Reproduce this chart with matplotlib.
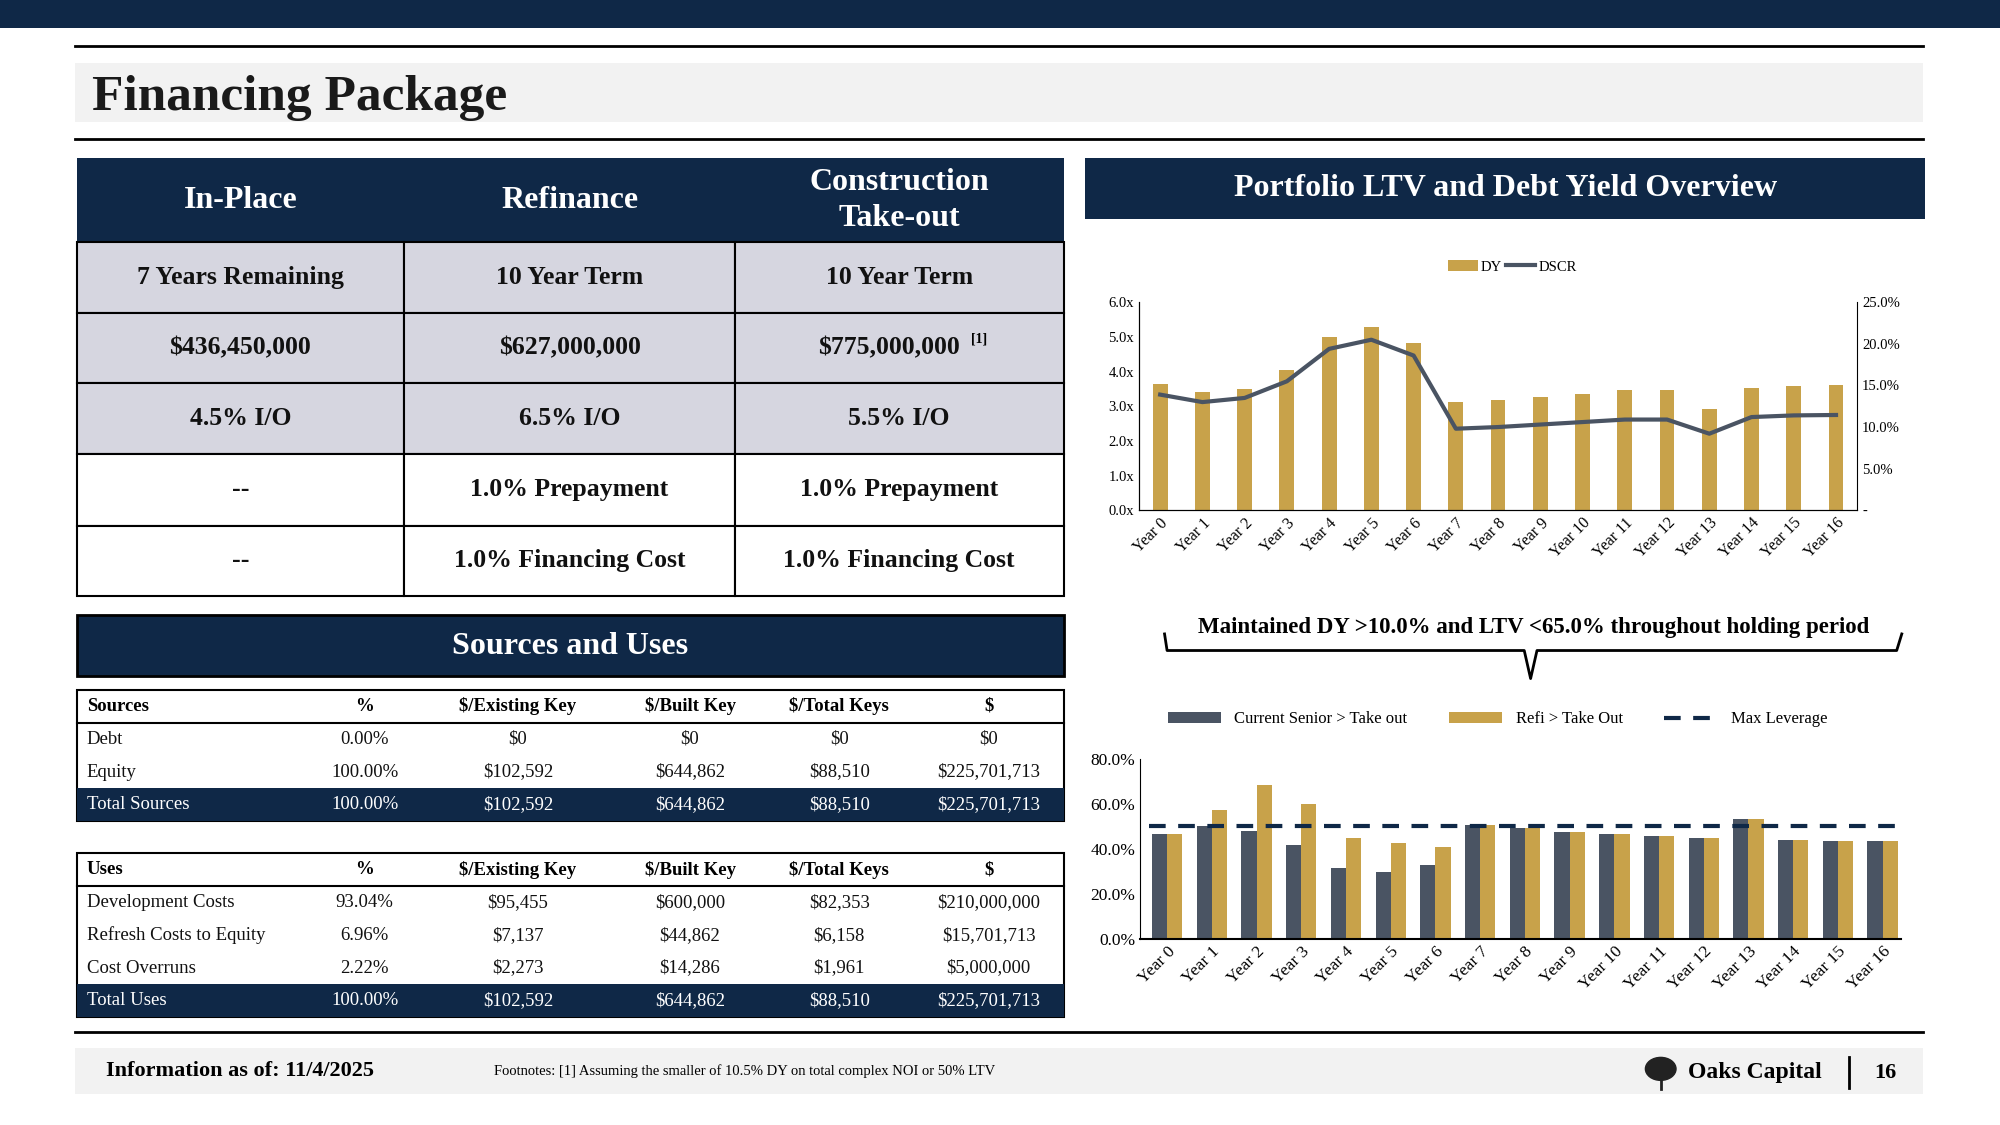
import matplotlib.pyplot as plt
import numpy as np
from matplotlib.patches import Rectangle, Ellipse
from matplotlib.ticker import FuncFormatter

plt.rcParams['font.family'] = ['Liberation Serif', 'DejaVu Serif']

NAVY = '#0f2847'
GOLD = '#c8a24a'
SLATE = '#4a5463'
GREY = '#d6d6e0'

years = ['Year %d' % i for i in range(17)]
dy_bars = [3.65, 3.40, 3.50, 4.05, 5.00, 5.30, 4.83, 3.13, 3.19, 3.27, 3.35, 3.47, 3.47, 2.93, 3.53, 3.58, 3.62]
dscr_line = [13.9, 13.0, 13.5, 15.5, 19.4, 20.5, 18.6, 9.8, 10.0, 10.3, 10.6, 10.9, 10.9, 9.2, 11.2, 11.4, 11.45]
current_senior = [46.4, 50.0, 48.1, 41.9, 31.3, 29.5, 32.6, 50.4, 49.2, 47.7, 46.8, 45.5, 45.0, 53.5, 44.1, 43.7, 43.3]
refi_takeout = [46.4, 57.5, 68.6, 60.1, 45.0, 42.4, 41.0, 50.4, 49.2, 47.7, 46.8, 45.5, 45.0, 53.5, 44.1, 43.7, 43.3]
max_leverage = 50.0

term_header = ['In-Place', 'Refinance', 'Construction\nTake-out']
term_rows = [
    ['7 Years Remaining', '10 Year Term', '10 Year Term'],
    ['$436,450,000', '$627,000,000', '$775,000,000'],
    ['4.5% I/O', '6.5% I/O', '5.5% I/O'],
    ['--', '1.0% Prepayment', '1.0% Prepayment'],
    ['--', '1.0% Financing Cost', '1.0% Financing Cost'],
]

su_cols = ['%', '$/Existing Key', '$/Built Key', '$/Total Keys', '$']
sources = [
    ['Debt', '0.00%', '$0', '$0', '$0', '$0'],
    ['Equity', '100.00%', '$102,592', '$644,862', '$88,510', '$225,701,713'],
    ['Total Sources', '100.00%', '$102,592', '$644,862', '$88,510', '$225,701,713'],
]
uses = [
    ['Development Costs', '93.04%', '$95,455', '$600,000', '$82,353', '$210,000,000'],
    ['Refresh Costs to Equity', '6.96%', '$7,137', '$44,862', '$6,158', '$15,701,713'],
    ['Cost Overruns', '2.22%', '$2,273', '$14,286', '$1,961', '$5,000,000'],
    ['Total Uses', '100.00%', '$102,592', '$644,862', '$88,510', '$225,701,713'],
]

W, H = 1568.0, 882.0
fig = plt.figure(figsize=(20, 11.25), dpi=100)

def rect(x0, y0, x1, y1):
    return [x0 / W, 1 - y1 / H, (x1 - x0) / W, (y1 - y0) / H]

bg = fig.add_axes([0, 0, 1, 1])
bg.set_xlim(0, W)
bg.set_ylim(H, 0)
bg.axis('off')

def box(x0, y0, x1, y1, fc, ec='none', lw=0):
    bg.add_patch(Rectangle((x0, y0), x1 - x0, y1 - y0, facecolor=fc, edgecolor=ec, linewidth=lw))

# top band and title
box(0, 0, W, 22, NAVY)
bg.plot([59, 1508], [36, 36], color='black', lw=2)
box(59, 49, 1508, 96, '#f2f2f2')
bg.text(72, 77, 'Financing Package', fontsize=37, fontweight='bold', va='center', color='#1a1a1a')
bg.plot([59, 1508], [109, 109], color='black', lw=2)

# terms table
cx = [60, 317, 576, 834]
box(60, 124, 834, 190, NAVY)
for i, t in enumerate(term_header):
    bg.text((cx[i] + cx[i + 1]) / 2, 157, t, color='white', fontsize=23, fontweight='bold',
            ha='center', va='center', linespacing=1.3)
ry = [190, 245, 300, 356, 412, 467]
for r, row in enumerate(term_rows):
    fc = GREY if r < 3 else 'white'
    for c in range(3):
        box(cx[c], ry[r], cx[c + 1], ry[r + 1], fc, 'black', 1.5)
        xc = (cx[c] + cx[c + 1]) / 2
        if r == 1 and c == 2:
            xc -= 8
        bg.text(xc, (ry[r] + ry[r + 1]) / 2, row[c], fontsize=18.5,
                fontweight='bold', ha='center', va='center', color='#111111')
bg.text(761, 266, '[1]', fontsize=10, fontweight='bold', va='center')

# sources and uses
box(60, 482, 834, 530, NAVY, 'black', 2)
bg.text(447, 507, 'Sources and Uses', color='white', fontsize=23, fontweight='bold', ha='center', va='center')
colx = [286, 406, 541, 658, 775]

def small_table(top, title, rows):
    rh = 25.7
    n = len(rows) + 1
    box(60, top, 834, top + rh * n, 'white', 'black', 1.5)
    box(60, top + rh * (n - 1), 834, top + rh * n, NAVY)
    bg.plot([60, 834], [top + rh, top + rh], color='black', lw=1.5)
    y = top + rh / 2
    bg.text(68, y, title, fontsize=13.5, fontweight='bold', va='center')
    for x, t in zip(colx, su_cols):
        bg.text(x, y, t, fontsize=13.5, fontweight='bold', va='center', ha='center')
    for r, row in enumerate(rows):
        y = top + rh * (r + 1.5)
        col = 'white' if r == len(rows) - 1 else '#111111'
        bg.text(68, y, row[0], fontsize=13.5, va='center', color=col)
        for x, t in zip(colx, row[1:]):
            bg.text(x, y, t, fontsize=13.5, va='center', ha='center', color=col)

small_table(541, 'Sources', sources)
small_table(669, 'Uses', uses)

# right header
box(851, 124, 1509, 172, NAVY)
bg.text(1180, 148, 'Portfolio LTV and Debt Yield Overview', color='white', fontsize=23,
        fontweight='bold', ha='center', va='center')

x = np.arange(len(years))

# top chart
ax1 = fig.add_axes(rect(893, 237, 1456, 400))
ax1.bar(x, dy_bars, width=0.35, color=GOLD, label='DY')
ax1.set_ylim(0, 6)
ax1.set_yticks(np.arange(0, 6.1, 1))
ax1.yaxis.set_major_formatter(FuncFormatter(lambda v, p: '%.1fx' % v))
ax1.set_xlim(-0.5, 16.5)
ax1.set_xticks(x)
ax1.set_xticklabels(years, rotation=45, ha='right', rotation_mode='anchor')
ax2 = ax1.twinx()
ax2.plot(x, dscr_line, color=SLATE, lw=3, label='DSCR')
ax2.set_ylim(0, 25)
ax2.set_yticks(np.arange(0, 25.1, 5))
ax2.yaxis.set_major_formatter(FuncFormatter(lambda v, p: '-' if v == 0 else '%.1f%%' % v))
for a in (ax1, ax2):
    a.tick_params(length=0, labelsize=10.5)
    a.spines['top'].set_visible(False)
ax1.tick_params(axis='x', labelsize=11.5)
ax1.spines['right'].set_visible(False)
h1, l1 = ax1.get_legend_handles_labels()
h2, l2 = ax2.get_legend_handles_labels()
ax1.legend(h1 + h2, l1 + l2, loc='center', bbox_to_anchor=(0.52, 1.17), ncol=2, frameon=False,
           fontsize=10.5, handlelength=2, columnspacing=0.3, handletextpad=0.2)

# annotation + brace
bg.text(1202, 492, 'Maintained DY >10.0% and LTV <65.0% throughout holding period', fontsize=16.5,
        fontweight='bold', ha='center', va='center')
bg.plot([913, 915, 1195, 1200, 1205, 1487, 1491], [497, 510, 510, 532, 510, 510, 497], color='black', lw=2)

# bottom chart
ax3 = fig.add_axes(rect(894, 595, 1490, 736))
bw = 0.34
b1 = ax3.bar(x - bw / 2, current_senior, width=bw, color=SLATE, label='Current Senior > Take out')
b2 = ax3.bar(x + bw / 2, refi_takeout, width=bw, color=GOLD, label='Refi > Take Out')
ln, = ax3.plot([-0.4, 16.4], [max_leverage, max_leverage], color=NAVY, lw=3, dashes=(4, 3), label='Max Leverage')
ax3.set_ylim(0, 80)
ax3.set_xlim(-0.6, 16.4)
ax3.set_yticks(np.arange(0, 81, 20))
ax3.yaxis.set_major_formatter(FuncFormatter(lambda v, p: '%.1f%%' % v))
ax3.set_xticks(x)
ax3.set_xticklabels(years, rotation=45, ha='right', rotation_mode='anchor', fontsize=12.5)
ax3.tick_params(length=0, labelsize=12.5)
for s in ('top', 'right'):
    ax3.spines[s].set_visible(False)
ax3.spines['bottom'].set_linewidth(1.5)
ax3.legend([b1, b2, ln], [b1.get_label(), b2.get_label(), ln.get_label()], loc='center',
           bbox_to_anchor=(0.47, 1.22), ncol=3, frameon=False, fontsize=12,
           handlelength=3.2, columnspacing=2.5)

# footer
bg.plot([59, 1508], [809, 809], color='black', lw=2)
box(59, 822, 1508, 858, '#f2f2f2')
bg.text(83, 840, 'Information as of: 11/4/2025', fontsize=16, fontweight='bold', va='center')
bg.text(387, 840, 'Footnotes: [1] Assuming the smaller of 10.5% DY on total complex NOI or 50% LTV',
        fontsize=10.5, va='center')
bg.add_patch(Ellipse((1302, 838), 24, 18, color='#222222'))
bg.plot([1302, 1302], [840, 854], color='#222222', lw=2)
bg.text(1323, 841, 'Oaks Capital', fontsize=17, fontweight='bold', va='center')
bg.plot([1450, 1450], [829, 853], color='black', lw=2)
bg.text(1478, 841, '16', fontsize=16, fontweight='bold', va='center', ha='center')

fig.savefig('out.png', dpi=100)
